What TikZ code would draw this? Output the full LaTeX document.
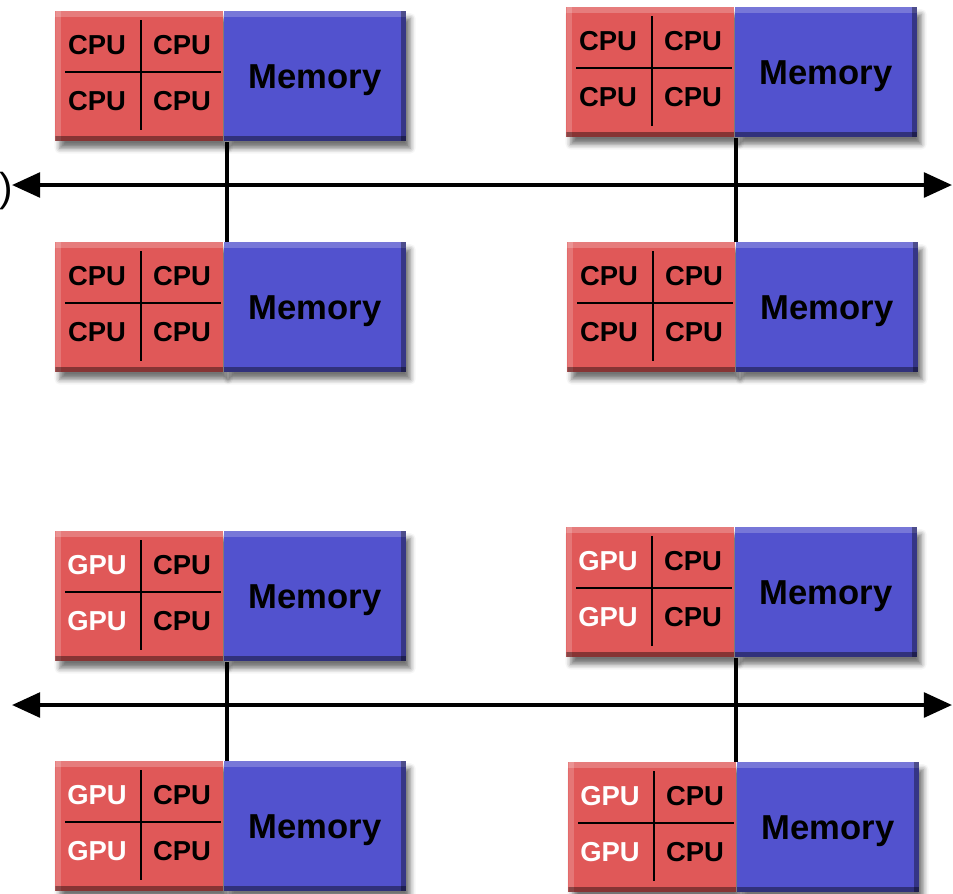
\documentclass[tikz,border=0pt]{standalone}
\usepackage{fontspec}
\setmainfont{Liberation Sans}
\usetikzlibrary{arrows.meta,positioning,calc,shadows.blur}
\definecolor{cpured}{RGB}{224,88,88}
\definecolor{memblue}{RGB}{82,82,206}

\begin{document}
\begin{tikzpicture}[x=0.02cm, y=-0.02cm, font=\bfseries,
	box/.style={inner sep=0, minimum height=2.6cm, anchor=north west,
		blur shadow={shadow xshift=2.5pt, shadow yshift=-4pt, shadow blur radius=3pt, shadow opacity=55}},
	cpubox/.style={box, fill=cpured, minimum width=3.36cm,
		path picture={
			\fill[white,opacity=.22] (path picture bounding box.north west) rectangle ([yshift=-3pt]path picture bounding box.north east);
			\fill[white,opacity=.18] (path picture bounding box.north west) rectangle ([xshift=3pt]path picture bounding box.south west);
			\fill[black,opacity=.4] (path picture bounding box.south west) rectangle ([yshift=3pt]path picture bounding box.south east);}},
	membox/.style={box, fill=memblue, minimum width=3.64cm, text depth=0pt, font=\fontsize{19.7}{22}\bfseries,
		path picture={
			\fill[white,opacity=.22] (path picture bounding box.north west) rectangle ([yshift=-3pt]path picture bounding box.north east);
			\fill[black,opacity=.4] (path picture bounding box.south west) rectangle ([yshift=3pt]path picture bounding box.south east);
			\fill[black,opacity=.35] (path picture bounding box.north east) rectangle ([xshift=-3pt]path picture bounding box.south east);}},
	core/.style={font=\fontsize{15.6}{18}\bfseries, text=black},
	gpu/.style={core, text=white},
	quad/.style={line width=1.3pt},
	link/.style={line width=2.3pt},
	bus/.style={line width=2.3pt, {Triangle[length=16pt,width=14pt]}-{Triangle[length=16pt,width=14pt]}}]
	\useasboundingbox (0,0) rectangle (953,893);

	% eight nodes, CPU-only on top, GPU-accelerated below
	\foreach \n/\x/\y/\kind/\name in {1/55/11/core/CPU, 2/566/7/core/CPU, 3/55/242/core/CPU, 4/567/242/core/CPU,
			5/55/531/gpu/GPU, 6/566/527/gpu/GPU, 7/55/761/gpu/GPU, 8/568/762/gpu/GPU} {
		\node[cpubox] (c\n) at (\x,\y) {};
		\node[membox] (m\n) at (c\n.north east) {Memory};
		\draw[quad] ($(c\n.north west)+(86,9)$) -- ($(c\n.north west)+(86,119)$);
		\draw[quad] ($(c\n.north west)+(10,61)$) -- ($(c\n.north west)+(166,61)$);
		\node[\kind] (p\n a) at ($(c\n.north west)+(42,34)$) {\name};
		\node[core] (p\n b) at ($(c\n.north west)+(127,34)$) {CPU};
		\node[\kind] (p\n c) at ($(c\n.north west)+(42,90)$) {\name};
		\node[core] (p\n d) at ($(c\n.north west)+(127,90)$) {CPU};
	}

	\node[font=\mdseries\fontsize{23}{26}\selectfont, anchor=east, inner sep=0] (paren) at (13,191) {)};

	\coordinate (busL1) at (12,185); \coordinate (busR1) at (952,185);
	\coordinate (busL2) at (12,705); \coordinate (busR2) at (952,705);
	\draw[bus] (busL1) -- (busR1);
	\draw[bus] (busL2) -- (busR2);

	\draw[link] ([xshift=2pt]m1.south west) -- ([xshift=2pt]m1.south west |- m3.north);
	\draw[link] ([xshift=1pt]m2.south west) -- ([xshift=1pt]m2.south west |- m4.north);
	\draw[link] ([xshift=2pt]m5.south west) -- ([xshift=2pt]m5.south west |- m7.north);
	\draw[link] ([xshift=1pt]m6.south west) -- ([xshift=1pt]m6.south west |- m8.north);
\end{tikzpicture}
\end{document}
